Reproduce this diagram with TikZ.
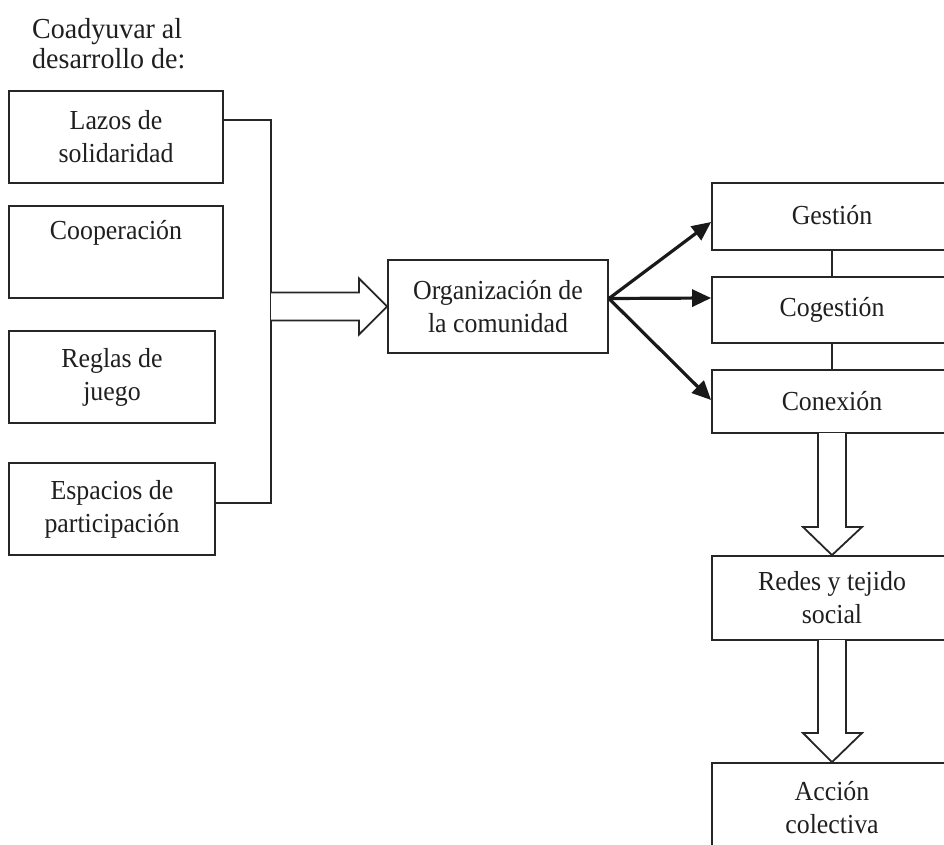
\documentclass[tikz,border=0pt]{standalone}
\usepackage{fontspec}
\setmainfont{Liberation Serif}
\newfontfamily\boxfont{Liberation Serif}[FakeStretch=0.94]
\newfontfamily\titlefont{Liberation Serif}[FakeStretch=0.965]
\usetikzlibrary{arrows.meta,calc}
\begin{document}
\begin{tikzpicture}[x=1pt,y=-1pt,
  every node/.style={font=\boxfont\fontsize{27.5}{33}\selectfont, text=black!88},
  box/.style={draw=black!85, line width=1.8pt, rectangle, align=center, inner sep=0pt},
  link/.style={draw=black!85, line width=1.8pt},
  hollow/.style={draw=black!85, line width=1.8pt, fill=white, line join=miter},
  thick arrow/.style={draw=black!90, line width=3.2pt, -{Triangle[length=19pt,width=17pt]}}]
\useasboundingbox (0,0) rectangle (944,845);
\clip (0,0) rectangle (944,845);
% title
\node[anchor=north west, align=left, inner sep=0pt, font=\titlefont\fontsize{29}{30}\selectfont] (title) at (32,18) {Coadyuvar al\\desarrollo de:};
% left boxes
\node[box, minimum width=214pt, minimum height=92pt] (lazos) at (116,137) {Lazos de\\solidaridad};
\node[box, minimum width=214pt, minimum height=92pt] (coop) at (116,252) {Cooperación\\[2pt]\strut};
\node[box, minimum width=206pt, minimum height=92pt] (reglas) at (112,377) {Reglas de\\juego};
\node[box, minimum width=206pt, minimum height=92pt] (espacios) at (112,509) {Espacios de\\participación};
% central box
\node[box, minimum width=220pt, minimum height=93pt] (org) at (498,306.5) {Organización de\\la comunidad};
% right boxes
\node[box, minimum width=240pt, minimum height=67pt] (gestion) at (832,216.5) {\raisebox{3pt}{Gestión}};
\node[box, minimum width=240pt, minimum height=66pt] (cogestion) at (832,310) {\raisebox{3pt}{Cogestión}};
\node[box, minimum width=240pt, minimum height=63pt] (conexion) at (832,401.5) {\raisebox{2pt}{Conexión}};
\node[box, minimum width=240pt, minimum height=84pt] (redes) at (832,598) {Redes y tejido\\social};
\node[box, minimum width=240pt, minimum height=90pt] (accion) at (832,808) {Acción\\colectiva};
% bracket connector
\coordinate (j1) at (271,120);
\coordinate (j2) at (271,503);
\draw[link] (lazos.east |- j1) -- (j1) -- (j2) -- (espacios.east |- j2);
% hollow arrow to org
\draw[hollow] (271,292.5) -- (359,292.5) -- (359,278.5) -- (org.west) -- (359,334.5) -- (359,320.5) -- (271,320.5);
% thin arrows
\coordinate (src) at ($(org.east)+(0,-8)$);
\draw[thick arrow] (src) -- (gestion.west |- 0,222);
\draw[thick arrow] (src) -- (cogestion.west |- 0,298);
\draw[thick arrow] (src) -- (conexion.west |- 0,400);
% vertical links
\draw[link] (gestion.south) -- (cogestion.north);
\draw[link] (cogestion.south) -- (conexion.north);
% hollow down arrows
\draw[hollow] (818,433) -- (818,527) -- (803,527) -- (redes.north) -- (862,527) -- (846,527) -- (846,433);
\draw[hollow] (818,640) -- (818,733) -- (803,733) -- (accion.north) -- (862,733) -- (846,733) -- (846,640);
\end{tikzpicture}
\end{document}
